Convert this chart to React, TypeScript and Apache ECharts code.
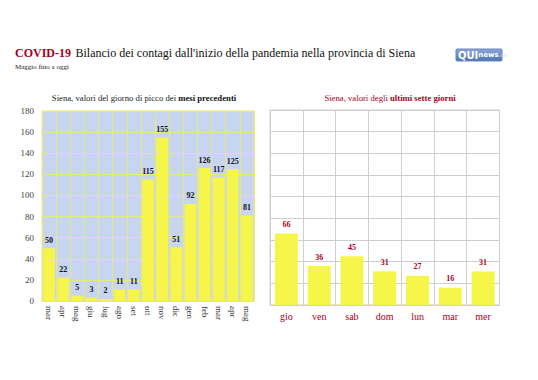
import React, { useEffect, useRef } from "react";
import * as echarts from "echarts";

const monthCats = ["mar", "apr", "mag", "giu", "lug", "ago", "set", "ott", "nov", "dic", "gen", "feb", "mar", "apr", "mag"];
const monthVals = [50, 22, 5, 3, 2, 11, 11, 115, 155, 51, 92, 126, 117, 125, 81];
const dayCats = ["gio", "ven", "sab", "dom", "lun", "mar", "mer"];
const dayVals = [66, 36, 45, 31, 27, 16, 31];
const yMax = 180;
const yStep = 20;

const SERIF = "'Liberation Serif', 'DejaVu Serif', serif";
const RED = "#a8001c";

export default function App() {
  const ref = useRef<HTMLDivElement>(null);
  useEffect(() => {
    if (!ref.current) return;
    const chart = echarts.init(ref.current, undefined, { renderer: "svg" });
    chart.setOption({
      animation: false,
      backgroundColor: "#ffffff",
      textStyle: { fontFamily: SERIF },
      title: [
        {
          left: 10,
          top: 39,
          text: "{a|COVID-19} {b|Bilancio dei contagi dall'inizio della pandemia nella provincia di Siena}",
          textStyle: {
            fontWeight: "normal",
            rich: {
              a: { fontFamily: SERIF, fontSize: 12, fontWeight: "bold", color: RED },
              b: { fontFamily: SERIF, fontSize: 12, fontWeight: "normal", color: "#111" },
            },
          },
        },
        {
          left: 10,
          top: 58,
          text: "Maggio fino a oggi",
          textStyle: { fontFamily: SERIF, fontSize: 7, fontWeight: "normal", color: "#222" },
        },
        {
          left: 139,
          textAlign: "center",
          top: 88,
          text: "{a|Siena, valori del giorno di picco dei }{b|mesi precedenti}",
          textStyle: {
            fontWeight: "normal",
            rich: {
              a: { fontFamily: SERIF, fontSize: 8.7, fontWeight: "normal", color: "#222" },
              b: { fontFamily: SERIF, fontSize: 8.7, fontWeight: "bold", color: "#111" },
            },
          },
        },
        {
          left: 385,
          textAlign: "center",
          top: 88,
          text: "{a|Siena, valori degli }{b|ultimi sette giorni}",
          textStyle: {
            fontWeight: "normal",
            rich: {
              a: { fontFamily: SERIF, fontSize: 8.7, fontWeight: "normal", color: RED },
              b: { fontFamily: SERIF, fontSize: 8.7, fontWeight: "bold", color: RED },
            },
          },
        },
      ],
      graphic: [
        {
          type: "rect",
          shape: { x: 456, y: 49, width: 46, height: 12, r: 1 },
          style: {
            fill: new echarts.graphic.LinearGradient(0, 0, 0, 1, [
              { offset: 0, color: "#8aa6d8" },
              { offset: 1, color: "#4f73b5" },
            ]),
            stroke: "#6b86bd",
          },
        },
        {
          type: "text",
          x: 458,
          y: 55,
          style: {
            text: "{q|QUI}{n|news}{d|.net}",
            verticalAlign: "middle",
            rich: {
              q: { font: "bold 10px 'DejaVu Sans', sans-serif", fill: "#ffffff" },
              n: { font: "bold 7px 'DejaVu Sans', sans-serif", fill: "#ffffff" },
              d: { font: "5px 'DejaVu Sans', sans-serif", fill: "#d6e0f4" },
            },
          },
        },
      ],
      grid: [
        {
          left: 42,
          top: 111,
          width: 212,
          height: 190,
          show: true,
          backgroundColor: "#c8d5f1",
          borderColor: "#e6ea7a",
          borderWidth: 1,
        },
        {
          left: 270,
          top: 110,
          width: 229.5,
          height: 195,
          show: true,
          backgroundColor: "#ffffff",
          borderColor: "#cfcfcf",
          borderWidth: 1,
        },
      ],
      xAxis: [
        {
          type: "category",
          gridIndex: 0,
          data: monthCats,
          axisLine: { lineStyle: { color: "#e6ea7a" } },
          axisTick: { show: false },
          splitLine: { show: true, interval: 0, lineStyle: { color: "#e6ea7a", width: 1 } },
          axisLabel: {
            interval: 0,
            rotate: -90,
            fontFamily: SERIF,
            fontSize: 9,
            color: "#333",
            margin: 5,
          },
        },
        {
          type: "category",
          gridIndex: 1,
          data: dayCats,
          axisLine: { lineStyle: { color: "#cfcfcf" } },
          axisTick: { show: false },
          splitLine: { show: true, interval: 0, lineStyle: { color: "#cfcfcf", width: 1 } },
          axisLabel: {
            interval: 0,
            fontFamily: SERIF,
            fontSize: 10,
            color: RED,
            margin: 6,
          },
        },
      ],
      yAxis: [
        {
          type: "value",
          gridIndex: 0,
          min: 0,
          max: yMax,
          interval: yStep,
          axisLine: { show: false },
          axisTick: { show: false },
          splitLine: { show: true, lineStyle: { color: "#e6ea7a", width: 1 } },
          axisLabel: { fontFamily: SERIF, fontSize: 9, color: "#444", margin: 8 },
        },
        {
          type: "value",
          gridIndex: 1,
          min: 0,
          max: yMax,
          interval: yStep,
          axisLine: { show: false },
          axisTick: { show: false },
          splitLine: { show: true, lineStyle: { color: "#cfcfcf", width: 1 } },
          axisLabel: { show: false },
        },
      ],
      series: [
        {
          type: "bar",
          xAxisIndex: 0,
          yAxisIndex: 0,
          data: monthVals,
          barCategoryGap: "18%",
          itemStyle: { color: "#f5f54a" },
          label: {
            show: true,
            position: "top",
            distance: 4,
            fontFamily: SERIF,
            fontSize: 8,
            fontWeight: "bold",
            color: "#111",
          },
        },
        {
          type: "bar",
          xAxisIndex: 1,
          yAxisIndex: 1,
          data: dayVals,
          barCategoryGap: "30%",
          itemStyle: { color: "#f5f54a" },
          label: {
            show: true,
            position: "top",
            distance: 5,
            fontFamily: SERIF,
            fontSize: 8,
            fontWeight: "bold",
            color: RED,
          },
        },
      ],
    });
    return () => chart.dispose();
  }, []);
  return <div ref={ref} style={{ width: 538, height: 380, position: "absolute", left: 0, top: 0 }} />;
}
